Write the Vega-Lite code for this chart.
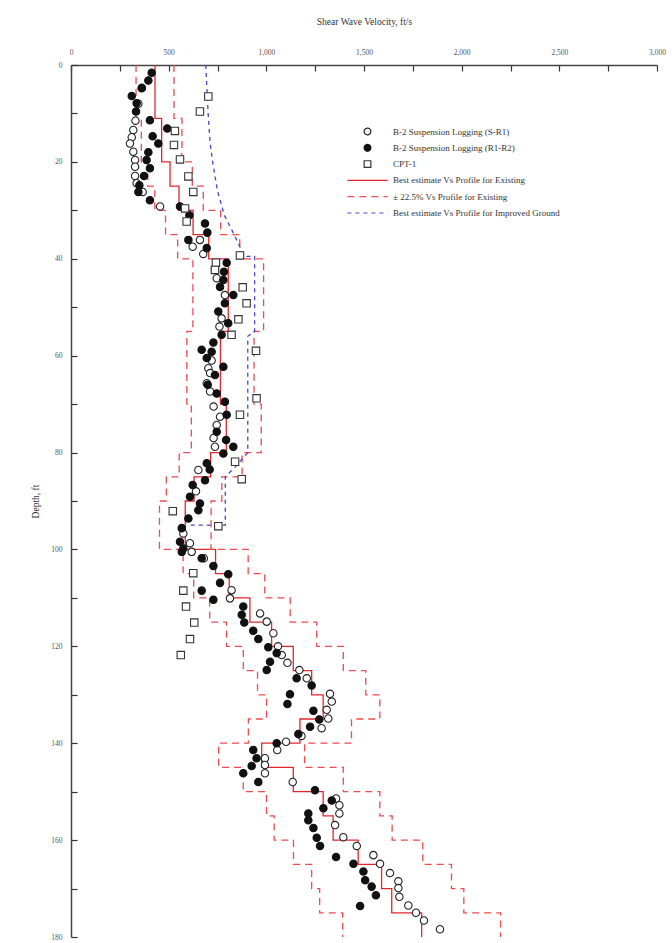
{
  "$schema": "https://vega.github.io/schema/vega-lite/v6.json",
  "width": 586,
  "height": 872,
  "autosize": {"type": "none"},
  "padding": {"left": 71, "top": 65, "right": 15, "bottom": 6},
  "background": "white",
  "config": {
    "view": {"stroke": null},
    "font": "Liberation Serif",
    "axis": {
      "grid": false,
      "domainColor": "#444",
      "domainWidth": 1.5,
      "tickColor": "#333",
      "tickWidth": 1.2,
      "tickOpacity": 1,
      "labelFont": "Liberation Serif",
      "labelFontSize": 7.5,
      "labelColor": "#555",
      "titleFont": "Liberation Serif",
      "titleFontSize": 9.5,
      "titleFontWeight": "normal",
      "titleColor": "#333",
      "labelFlush": false,
      "labelOverlap": false
    },
    "legend": {
      "orient": "none",
      "legendX": 292,
      "legendY": 62,
      "padding": 0,
      "title": null,
      "labelFont": "Liberation Serif",
      "labelFontSize": 9,
      "labelColor": "#333",
      "labelLimit": 400,
      "symbolSize": 45,
      "symbolStrokeWidth": 1.2,
      "labelOffset": 21,
      "rowPadding": 3.3
    }
  },
  "datasets": {
    "pts": [
      {"s":"A","v":363,"d":4.7},{"s":"A","v":345,"d":8},{"s":"A","v":330,"d":11.5},{"s":"A","v":319,"d":13.4},{"s":"A","v":311,"d":14.9},{"s":"A","v":302,"d":16.2},{"s":"A","v":319,"d":17.9},{"s":"A","v":328,"d":19.6},{"s":"A","v":328,"d":21},{"s":"A","v":328,"d":22.9},{"s":"A","v":336,"d":24.4},{"s":"A","v":367,"d":26.2},{"s":"A","v":456,"d":29.2},{"s":"A","v":660,"d":36.1},{"s":"A","v":623,"d":37.5},{"s":"A","v":677,"d":39},
      {"s":"A","v":737,"d":42},{"s":"A","v":746,"d":44},{"s":"A","v":788,"d":47.5},{"s":"A","v":771,"d":52.3},{"s":"A","v":760,"d":54},{"s":"A","v":720,"d":61},{"s":"A","v":703,"d":62.6},{"s":"A","v":712,"d":63.6},{"s":"A","v":695,"d":65.7},{"s":"A","v":712,"d":67.4},{"s":"A","v":730,"d":70.5},{"s":"A","v":763,"d":72.6},{"s":"A","v":746,"d":74.3},{"s":"A","v":730,"d":77},{"s":"A","v":737,"d":78.8},{"s":"A","v":652,"d":83.6},{"s":"A","v":640,"d":88},{"s":"A","v":575,"d":96.7},{"s":"A","v":609,"d":98.7},
      {"s":"A","v":618,"d":100.5},{"s":"A","v":680,"d":101.8},{"s":"A","v":822,"d":108.4},{"s":"A","v":814,"d":110.1},{"s":"A","v":968,"d":113.2},{"s":"A","v":1002,"d":114.9},{"s":"A","v":1036,"d":117.3},{"s":"A","v":1060,"d":120},{"s":"A","v":1079,"d":121.8},{"s":"A","v":1108,"d":123.4},{"s":"A","v":1169,"d":124.9},{"s":"A","v":1207,"d":126.6},{"s":"A","v":1326,"d":129.8},{"s":"A","v":1335,"d":131.4},{"s":"A","v":1309,"d":133.1},{"s":"A","v":1317,"d":134.9},{"s":"A","v":1283,"d":136.9},{"s":"A","v":1180,"d":138.5},
      {"s":"A","v":1101,"d":139.7},{"s":"A","v":1056,"d":141.4},{"s":"A","v":993,"d":143.1},{"s":"A","v":993,"d":144.5},{"s":"A","v":993,"d":146.2},{"s":"A","v":1135,"d":148},{"s":"A","v":1357,"d":151.4},{"s":"A","v":1374,"d":152.8},{"s":"A","v":1374,"d":154.5},{"s":"A","v":1352,"d":156.9},{"s":"A","v":1394,"d":159.4},{"s":"A","v":1463,"d":161.2},{"s":"A","v":1548,"d":163.1},{"s":"A","v":1582,"d":164.9},{"s":"A","v":1633,"d":166.8},{"s":"A","v":1676,"d":168.5},{"s":"A","v":1676,"d":169.9},{"s":"A","v":1681,"d":171.7},{"s":"A","v":1727,"d":173.5},{"s":"A","v":1766,"d":175},{"s":"A","v":1807,"d":176.6},{"s":"A","v":1889,"d":178.4},
      {"s":"B","v":413,"d":1.6},{"s":"B","v":396,"d":3.2},{"s":"B","v":362,"d":4.8},{"s":"B","v":311,"d":6.4},{"s":"B","v":336,"d":7.9},{"s":"B","v":333,"d":9.6},{"s":"B","v":404,"d":11.4},{"s":"B","v":493,"d":13.1},{"s":"B","v":418,"d":14.7},{"s":"B","v":447,"d":16.2},{"s":"B","v":396,"d":18},{"s":"B","v":387,"d":19.6},{"s":"B","v":404,"d":21.3},{"s":"B","v":374,"d":22.9},{"s":"B","v":350,"d":24.8},{"s":"B","v":345,"d":26.2},{"s":"B","v":404,"d":27.9},{"s":"B","v":558,"d":29.2},{"s":"B","v":606,"d":31},{"s":"B","v":686,"d":32.7},{"s":"B","v":698,"d":34.6},{"s":"B","v":601,"d":36.1},{"s":"B","v":695,"d":37.8},
      {"s":"B","v":797,"d":40.8},{"s":"B","v":783,"d":42.7},{"s":"B","v":780,"d":44.4},{"s":"B","v":763,"d":45.8},{"s":"B","v":831,"d":47.5},{"s":"B","v":788,"d":49.2},{"s":"B","v":754,"d":50.9},{"s":"B","v":805,"d":53.3},{"s":"B","v":771,"d":55.7},{"s":"B","v":729,"d":57.3},{"s":"B","v":669,"d":58.8},{"s":"B","v":720,"d":59.2},{"s":"B","v":695,"d":60.5},{"s":"B","v":780,"d":62.3},{"s":"B","v":737,"d":64},{"s":"B","v":700,"d":66},{"s":"B","v":746,"d":67.8},{"s":"B","v":788,"d":69.5},{"s":"B","v":797,"d":72.2},{"s":"B","v":746,"d":75.7},{"s":"B","v":794,"d":77.4},{"s":"B","v":831,"d":78.8},{"s":"B","v":780,"d":80.2},{"s":"B","v":695,"d":82.2},{"s":"B","v":710,"d":83.5},{"s":"B","v":686,"d":85.7},{"s":"B","v":623,"d":86.7},{"s":"B","v":609,"d":89.1},{"s":"B","v":660,"d":90.5},{"s":"B","v":652,"d":91.9},{"s":"B","v":601,"d":93.6},{"s":"B","v":567,"d":95.6},{"s":"B","v":558,"d":98.4},{"s":"B","v":575,"d":99.8},
      {"s":"B","v":567,"d":100.5},{"s":"B","v":669,"d":101.8},{"s":"B","v":729,"d":103.4},{"s":"B","v":805,"d":105.1},{"s":"B","v":763,"d":106.9},{"s":"B","v":669,"d":108.5},{"s":"B","v":729,"d":110.4},{"s":"B","v":882,"d":111.8},{"s":"B","v":874,"d":113.5},{"s":"B","v":887,"d":115.1},{"s":"B","v":933,"d":116.8},{"s":"B","v":959,"d":118.5},{"s":"B","v":1010,"d":120.2},{"s":"B","v":1053,"d":121.4},{"s":"B","v":1019,"d":123.2},{"s":"B","v":1002,"d":124.9},{"s":"B","v":1155,"d":126.6},{"s":"B","v":1232,"d":128.1},{"s":"B","v":1121,"d":129.9},{"s":"B","v":1108,"d":131.9},{"s":"B","v":1241,"d":133.3},{"s":"B","v":1271,"d":135.1},{"s":"B","v":1224,"d":136.6},{"s":"B","v":1164,"d":138.1},
      {"s":"B","v":1053,"d":140},{"s":"B","v":933,"d":141.4},{"s":"B","v":950,"d":143.1},{"s":"B","v":925,"d":144.7},{"s":"B","v":882,"d":146.2},{"s":"B","v":959,"d":148},{"s":"B","v":1249,"d":149.7},{"s":"B","v":1335,"d":151.8},{"s":"B","v":1292,"d":153.4},{"s":"B","v":1215,"d":154.5},{"s":"B","v":1215,"d":155.9},{"s":"B","v":1241,"d":157.5},{"s":"B","v":1258,"d":159.5},{"s":"B","v":1275,"d":161.2},{"s":"B","v":1357,"d":163.5},{"s":"B","v":1446,"d":164.9},{"s":"B","v":1497,"d":166.5},{"s":"B","v":1506,"d":168.3},{"s":"B","v":1539,"d":169.6},{"s":"B","v":1561,"d":171.4},{"s":"B","v":1480,"d":173.6},
      {"s":"C","v":703,"d":6.5},{"s":"C","v":660,"d":9.6},{"s":"C","v":532,"d":13.6},{"s":"C","v":527,"d":16.5},{"s":"C","v":558,"d":19.5},{"s":"C","v":601,"d":23},{"s":"C","v":626,"d":26.2},{"s":"C","v":584,"d":29.6},{"s":"C","v":592,"d":32.3},{"s":"C","v":865,"d":39.3},{"s":"C","v":742,"d":40.8},{"s":"C","v":737,"d":42.3},{"s":"C","v":879,"d":45.9},{"s":"C","v":899,"d":49.2},{"s":"C","v":857,"d":52.5},{"s":"C","v":822,"d":55.7},{"s":"C","v":947,"d":59},{"s":"C","v":950,"d":68.8},{"s":"C","v":865,"d":72.2},{"s":"C","v":840,"d":81.9},{"s":"C","v":874,"d":85.5},{"s":"C","v":521,"d":92.1},{"s":"C","v":754,"d":95.2},{"s":"C","v":626,"d":104.9},{"s":"C","v":575,"d":108.5},{"s":"C","v":589,"d":111.8},{"s":"C","v":631,"d":115.1},{"s":"C","v":609,"d":118.5},{"s":"C","v":562,"d":121.8}
    ],
    "stp": [
      {"s":"D","p":"m","v":430,"d":0},{"s":"D","p":"m","v":464,"d":11},{"s":"D","p":"m","v":507,"d":20},{"s":"D","p":"m","v":553,"d":25},{"s":"D","p":"m","v":625,"d":30},{"s":"D","p":"m","v":705,"d":35},{"s":"D","p":"m","v":805,"d":40},{"s":"D","p":"m","v":765,"d":55},{"s":"D","p":"m","v":795,"d":70},{"s":"D","p":"m","v":715,"d":80},{"s":"D","p":"m","v":630,"d":85},{"s":"D","p":"m","v":585,"d":90},{"s":"D","p":"m","v":740,"d":100},{"s":"D","p":"m","v":810,"d":105},{"s":"D","p":"m","v":916,"d":110},{"s":"D","p":"m","v":1027,"d":115},{"s":"D","p":"m","v":1138,"d":120},{"s":"D","p":"m","v":1232,"d":125},{"s":"D","p":"m","v":1291,"d":130},{"s":"D","p":"m","v":1172,"d":135},{"s":"D","p":"m","v":976,"d":140},{"s":"D","p":"m","v":1138,"d":145},{"s":"D","p":"m","v":1291,"d":150},{"s":"D","p":"m","v":1342,"d":155},{"s":"D","p":"m","v":1470,"d":160},{"s":"D","p":"m","v":1590,"d":165},{"s":"D","p":"m","v":1642,"d":170},{"s":"D","p":"m","v":1795,"d":175},{"s":"D","p":"m","v":1795,"d":180},
      {"s":"E","p":"lo","v":333,"d":0},{"s":"E","p":"lo","v":360,"d":11},{"s":"E","p":"lo","v":393,"d":20},{"s":"E","p":"lo","v":429,"d":25},{"s":"E","p":"lo","v":484,"d":30},{"s":"E","p":"lo","v":546,"d":35},{"s":"E","p":"lo","v":624,"d":40},{"s":"E","p":"lo","v":593,"d":55},{"s":"E","p":"lo","v":616,"d":70},{"s":"E","p":"lo","v":554,"d":80},{"s":"E","p":"lo","v":488,"d":85},{"s":"E","p":"lo","v":453,"d":90},{"s":"E","p":"lo","v":574,"d":100},{"s":"E","p":"lo","v":628,"d":105},{"s":"E","p":"lo","v":710,"d":110},{"s":"E","p":"lo","v":796,"d":115},{"s":"E","p":"lo","v":882,"d":120},{"s":"E","p":"lo","v":955,"d":125},{"s":"E","p":"lo","v":1001,"d":130},{"s":"E","p":"lo","v":908,"d":135},{"s":"E","p":"lo","v":756,"d":140},{"s":"E","p":"lo","v":882,"d":145},{"s":"E","p":"lo","v":1001,"d":150},{"s":"E","p":"lo","v":1040,"d":155},{"s":"E","p":"lo","v":1139,"d":160},{"s":"E","p":"lo","v":1232,"d":165},{"s":"E","p":"lo","v":1273,"d":170},{"s":"E","p":"lo","v":1391,"d":175},{"s":"E","p":"lo","v":1391,"d":180},
      {"s":"E","p":"hi","v":527,"d":0},{"s":"E","p":"hi","v":568,"d":11},{"s":"E","p":"hi","v":621,"d":20},{"s":"E","p":"hi","v":677,"d":25},{"s":"E","p":"hi","v":766,"d":30},{"s":"E","p":"hi","v":864,"d":35},{"s":"E","p":"hi","v":986,"d":40},{"s":"E","p":"hi","v":937,"d":55},{"s":"E","p":"hi","v":974,"d":70},{"s":"E","p":"hi","v":876,"d":80},{"s":"E","p":"hi","v":772,"d":85},{"s":"E","p":"hi","v":717,"d":90},{"s":"E","p":"hi","v":907,"d":100},{"s":"E","p":"hi","v":992,"d":105},{"s":"E","p":"hi","v":1122,"d":110},{"s":"E","p":"hi","v":1258,"d":115},{"s":"E","p":"hi","v":1394,"d":120},{"s":"E","p":"hi","v":1509,"d":125},{"s":"E","p":"hi","v":1581,"d":130},{"s":"E","p":"hi","v":1436,"d":135},{"s":"E","p":"hi","v":1196,"d":140},{"s":"E","p":"hi","v":1394,"d":145},{"s":"E","p":"hi","v":1581,"d":150},{"s":"E","p":"hi","v":1644,"d":155},{"s":"E","p":"hi","v":1801,"d":160},{"s":"E","p":"hi","v":1948,"d":165},{"s":"E","p":"hi","v":2011,"d":170},{"s":"E","p":"hi","v":2199,"d":175},{"s":"E","p":"hi","v":2199,"d":180}
    ],
    "blu": [
      {"s":"F","o":1,"v":690,"d":0},{"s":"F","o":2,"v":702,"d":10},{"s":"F","o":3,"v":712,"d":16},{"s":"F","o":4,"v":725,"d":20},{"s":"F","o":5,"v":750,"d":26},{"s":"F","o":6,"v":785,"d":31},{"s":"F","o":7,"v":835,"d":35},{"s":"F","o":8,"v":870,"d":38},{"s":"F","o":9,"v":885,"d":39.5},{"s":"F","o":10,"v":940,"d":39.5},{"s":"F","o":11,"v":940,"d":55},{"s":"F","o":12,"v":905,"d":56},{"s":"F","o":13,"v":905,"d":80},{"s":"F","o":14,"v":840,"d":83},{"s":"F","o":15,"v":790,"d":85},{"s":"F","o":16,"v":790,"d":95},{"s":"F","o":17,"v":595,"d":95}
    ]
  },
  "encoding": {
    "x": {
      "field": "v", "type": "quantitative",
      "scale": {"domain": [0, 3000], "nice": false, "zero": false},
      "axis": {
        "orient": "top",
        "values": [0,250,500,750,1000,1250,1500,1750,2000,2250,2500,2750,3000],
        "labelExpr": "datum.value % 500 === 0 ? format(datum.value, ',') : ''",
        "title": "Shear Wave Velocity, ft/s",
        "ticks": true,
        "tickSize": -6,
        "labelPadding": 15,
        "titlePadding": 22,
        "encode": {"ticks": {"update": {"stroke": {"value": "#333"}, "strokeWidth": {"value": 1.2}, "strokeOpacity": {"value": 1}, "opacity": {"value": 1}}}}
      }
    },
    "y": {
      "field": "d", "type": "quantitative",
      "scale": {"domain": [0, 180], "nice": false, "zero": false, "reverse": true},
      "axis": {
        "orient": "left",
        "values": [0,10,20,30,40,50,60,70,80,90,100,110,120,130,140,150,160,170,180],
        "labelExpr": "datum.value % 20 === 0 ? datum.value + '' : ''",
        "title": "Depth, ft",
        "ticks": true,
        "tickSize": -6,
        "labelPadding": 15,
        "titlePadding": 10,
        "encode": {"ticks": {"update": {"stroke": {"value": "#333"}, "strokeWidth": {"value": 1.2}, "strokeOpacity": {"value": 1}, "opacity": {"value": 1}}}}
      }
    }
  },
  "layer": [
    {
      "data": {"name": "stp"},
      "mark": {"type": "line", "interpolate": "step-before", "strokeWidth": 1.3},
      "encoding": {
        "order": {"field": "d", "type": "quantitative"},
        "detail": {"field": "p", "type": "nominal"},
        "stroke": {"field": "s", "type": "nominal", "scale": {"domain": ["A","B","C","D","E","F"], "range": ["#222","#111","#333","#e3262c","#ee4a50","#4444cc"]},
          "legend": {"labelExpr": "datum.label == 'A' ? 'B-2 Suspension Logging (S-R1)' : datum.label == 'B' ? 'B-2 Suspension Logging (R1-R2)' : datum.label == 'C' ? 'CPT-1' : datum.label == 'D' ? 'Best estimate Vs Profile for Existing' : datum.label == 'E' ? '± 22.5% Vs Profile for Existing' : 'Best estimate Vs Profile for Improved Ground'"}},
        "strokeDash": {"field": "s", "type": "nominal", "scale": {"domain": ["A","B","C","D","E","F"], "range": [[1,0],[1,0],[1,0],[1,0],[7,5],[4,4]]},
          "legend": {"labelExpr": "datum.label == 'A' ? 'B-2 Suspension Logging (S-R1)' : datum.label == 'B' ? 'B-2 Suspension Logging (R1-R2)' : datum.label == 'C' ? 'CPT-1' : datum.label == 'D' ? 'Best estimate Vs Profile for Existing' : datum.label == 'E' ? '± 22.5% Vs Profile for Existing' : 'Best estimate Vs Profile for Improved Ground'"}}
      }
    },
    {
      "data": {"name": "blu"},
      "mark": {"type": "line", "strokeWidth": 1.3},
      "encoding": {
        "order": {"field": "o", "type": "quantitative"},
        "stroke": {"field": "s", "type": "nominal", "scale": {"domain": ["A","B","C","D","E","F"], "range": ["#222","#111","#333","#e3262c","#ee4a50","#4444cc"]}},
        "strokeDash": {"field": "s", "type": "nominal", "scale": {"domain": ["A","B","C","D","E","F"], "range": [[1,0],[1,0],[1,0],[1,0],[7,5],[4,4]]}}
      }
    },
    {
      "data": {"name": "pts"},
      "mark": {"type": "point", "size": 55, "strokeWidth": 1.1, "opacity": 1},
      "encoding": {
        "shape": {"field": "s", "type": "nominal", "scale": {"domain": ["A","B","C","D","E","F"], "range": ["circle","circle","square","M-6,-1M6,1M-6,0H6","M-6,-1M6,1M-6,0H6","M-6,-1M6,1M-6,0H6"]},
          "legend": {"labelExpr": "datum.label == 'A' ? 'B-2 Suspension Logging (S-R1)' : datum.label == 'B' ? 'B-2 Suspension Logging (R1-R2)' : datum.label == 'C' ? 'CPT-1' : datum.label == 'D' ? 'Best estimate Vs Profile for Existing' : datum.label == 'E' ? '± 22.5% Vs Profile for Existing' : 'Best estimate Vs Profile for Improved Ground'"}},
        "fill": {"field": "s", "type": "nominal", "scale": {"domain": ["A","B","C","D","E","F"], "range": ["white","#111","white","transparent","transparent","transparent"]},
          "legend": {"labelExpr": "datum.label == 'A' ? 'B-2 Suspension Logging (S-R1)' : datum.label == 'B' ? 'B-2 Suspension Logging (R1-R2)' : datum.label == 'C' ? 'CPT-1' : datum.label == 'D' ? 'Best estimate Vs Profile for Existing' : datum.label == 'E' ? '± 22.5% Vs Profile for Existing' : 'Best estimate Vs Profile for Improved Ground'"}},
        "stroke": {"field": "s", "type": "nominal", "scale": {"domain": ["A","B","C","D","E","F"], "range": ["#222","#111","#333","#e3262c","#ee4a50","#4444cc"]}}
      }
    }
  ]
}
